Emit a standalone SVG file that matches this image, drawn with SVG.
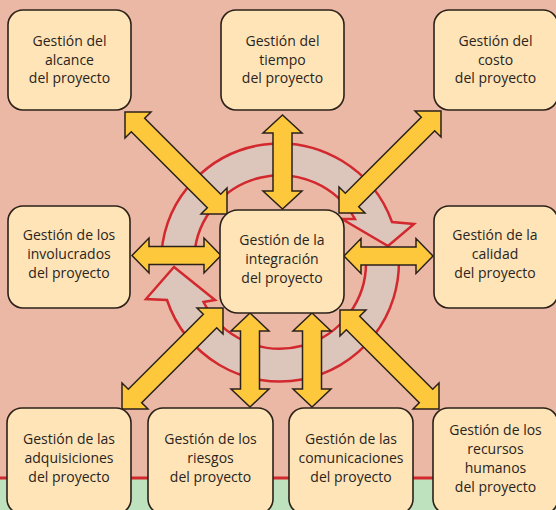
<svg xmlns="http://www.w3.org/2000/svg" width="556" height="510" viewBox="0 0 556 510">
<style>
.box{fill:#FFE4B8;stroke:#2b2118;stroke-width:1.6}
.arr{fill:#FDC83C;stroke:#2b2118;stroke-width:1.5;stroke-linejoin:miter}
.ring{fill:#DCC6BC;stroke:#D2282E;stroke-width:2.5;stroke-linejoin:miter}
text{font-family:"Open Sans","Noto Sans",sans-serif;font-size:14px;fill:#2a2420;text-anchor:middle}
</style>
<rect x="0" y="0" width="556" height="510" fill="#EBB8A6"/>
<rect x="0" y="479" width="556" height="31" fill="#BEE2BE"/>
<rect x="0" y="476.5" width="556" height="3" fill="#D2282E"/>
<g id="ring">
<path class="ring" d="M161.5,252.6 A119,119 0 0 1 392,222 L414,224 L388,246 L342,219 L355,219 A86,86 0 0 0 194.3,255.5 Z"/>
<path class="ring" d="M398.8,256.8 A119,119 0 0 1 167,300 L146,299 L174,267 L215,300 L203.5,302 A86,86 0 0 0 365.9,258.5 Z"/>
</g>
<g id="connectors">
<polygon class="arr" points="125,112 151,112 144.7,118.3 220.7,194.3 227,188 227,214 201,214 207.3,207.7 131.3,131.7 125,138"/>
<polygon class="arr" points="282.5,115 302,133 292,133 292,191 302,191 282.5,209 263,191 273,191 273,133 263,133"/>
<polygon class="arr" points="441,111 415,111 421.3,117.3 345.3,193.3 339,187 339,213 365,213 358.7,206.7 434.7,130.7 441,137"/>
<polygon class="arr" points="132,255.5 149,238 149,246.5 204,246.5 204,238 221,255.5 204,273 204,264.5 149,264.5 149,273"/>
<polygon class="arr" points="344,256 361,238.5 361,247 416,247 416,238.5 433,256 416,273.5 416,265 361,265 361,273.5"/>
<polygon class="arr" points="223,308 197,308 203.3,314.3 128.3,389.3 122,383 122,409 148,409 141.7,402.7 216.7,327.7 223,334"/>
<polygon class="arr" points="250,313 269,331 259.5,331 259.5,389 269,389 250,407 231,389 240.5,389 240.5,331 231,331"/>
<polygon class="arr" points="312,313 331,331 321.5,331 321.5,389 331,389 312,407 293,389 302.5,389 302.5,331 293,331"/>
<polygon class="arr" points="340,310 366,310 359.7,316.3 432.7,389.3 439,383 439,409 413,409 419.3,402.7 346.3,329.7 340,336"/>
</g>
<g id="alcance"><rect class="box" x="8" y="10" width="123" height="100" rx="15"/>
<text x="69.5" y="46">Gestión del</text><text x="69.5" y="64.5">alcance</text><text x="69.5" y="83">del proyecto</text></g>
<g id="tiempo"><rect class="box" x="221" y="10" width="123" height="100" rx="15"/>
<text x="282.5" y="46">Gestión del</text><text x="282.5" y="64.5">tiempo</text><text x="282.5" y="83">del proyecto</text></g>
<g id="costo"><rect class="box" x="434" y="10" width="124" height="100" rx="15"/>
<text x="495.5" y="46">Gestión del</text><text x="495.5" y="64.5">costo</text><text x="495.5" y="83">del proyecto</text></g>
<g id="involucrados"><rect class="box" x="8" y="206" width="122" height="102" rx="15"/>
<text x="69" y="240">Gestión de los</text><text x="69" y="259">involucrados</text><text x="69" y="278">del proyecto</text></g>
<g id="integracion"><rect class="box" x="220" y="210" width="124" height="103" rx="18"/>
<text x="282" y="245">Gestión de la</text><text x="282" y="264">integración</text><text x="282" y="283">del proyecto</text></g>
<g id="calidad"><rect class="box" x="434" y="206" width="124" height="102" rx="15"/>
<text x="495" y="240">Gestión de la</text><text x="495" y="259">calidad</text><text x="495" y="278">del proyecto</text></g>
<g id="adquisiciones"><rect class="box" x="7" y="408" width="124" height="106" rx="15"/>
<text x="69" y="444">Gestión de las</text><text x="69" y="463">adquisiciones</text><text x="69" y="482">del proyecto</text></g>
<g id="riesgos"><rect class="box" x="148" y="408" width="125" height="106" rx="15"/>
<text x="210.5" y="444">Gestión de los</text><text x="210.5" y="463">riesgos</text><text x="210.5" y="482">del proyecto</text></g>
<g id="comunicaciones"><rect class="box" x="289" y="408" width="124" height="106" rx="15"/>
<text x="351" y="444">Gestión de las</text><text x="351" y="463">comunicaciones</text><text x="351" y="482">del proyecto</text></g>
<g id="recursos"><rect class="box" x="433" y="408" width="125" height="106" rx="15"/>
<text x="495.5" y="435">Gestión de los</text><text x="495.5" y="454">recursos</text><text x="495.5" y="473">humanos</text><text x="495.5" y="492">del proyecto</text></g>
</svg>
